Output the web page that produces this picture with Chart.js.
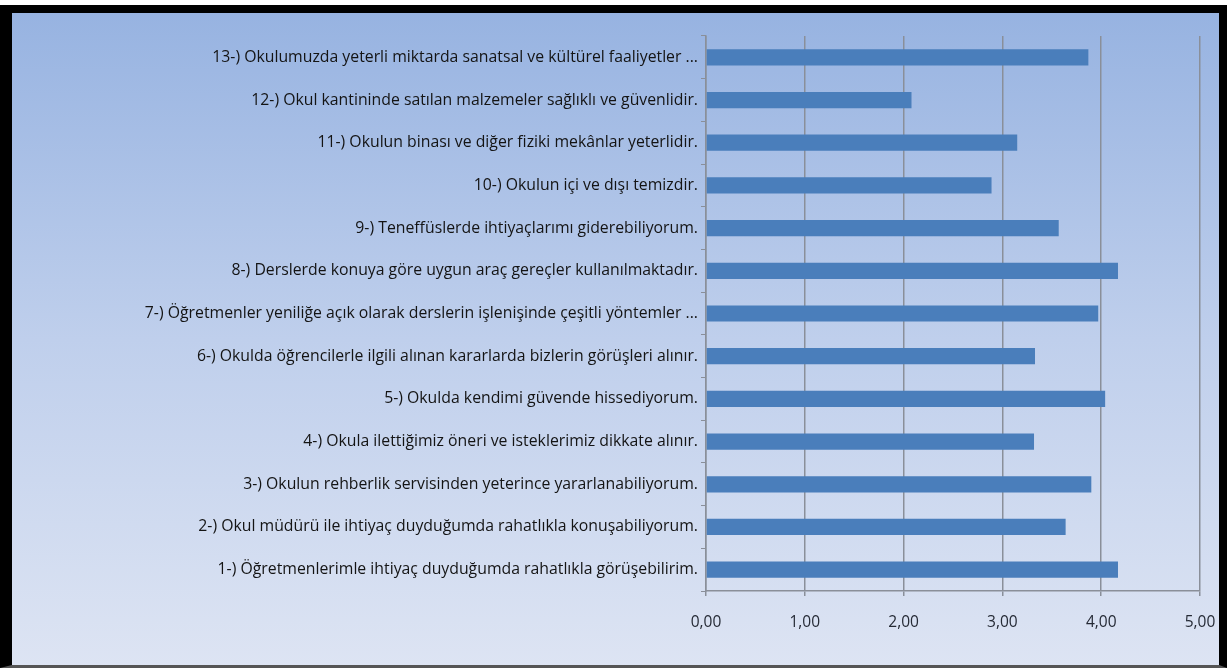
<!DOCTYPE html>
<html lang="tr">
<head>
<meta charset="utf-8">
<title>Okul memnuniyet anketi</title>
<script src="https://cdn.jsdelivr.net/npm/chart.js@4/dist/chart.umd.min.js"></script>
<style>
  body { margin: 0; background: #fff; }
  #frame {
    position: absolute;
    left: 0;
    top: 5px;
    width: 1207px;
    height: 652px;
    border-left: 12px solid #000;
    border-top: 8px solid #000;
    border-right: 8px solid #000;
    border-bottom: 3px solid #555;
    background: linear-gradient(to bottom, #97b3e1 0%, #bfcfec 50%, #dde4f3 100%);
  }
  canvas { display: block; }
</style>
</head>
<body>
<div id="frame">
  <canvas id="chart" width="1207" height="652"></canvas>
</div>
<script>
const questions = [
  "1-) Öğretmenlerimle ihtiyaç duyduğumda rahatlıkla görüşebilirim.",
  "2-) Okul müdürü ile ihtiyaç duyduğumda rahatlıkla konuşabiliyorum.",
  "3-) Okulun rehberlik servisinden yeterince yararlanabiliyorum.",
  "4-) Okula ilettiğimiz öneri ve isteklerimiz dikkate alınır.",
  "5-) Okulda kendimi güvende hissediyorum.",
  "6-) Okulda öğrencilerle ilgili alınan kararlarda bizlerin görüşleri alınır.",
  "7-) Öğretmenler yeniliğe açık olarak derslerin işlenişinde çeşitli yöntemler ...",
  "8-) Derslerde konuya göre uygun araç gereçler kullanılmaktadır.",
  "9-) Teneffüslerde ihtiyaçlarımı giderebiliyorum.",
  "10-) Okulun içi ve dışı temizdir.",
  "11-) Okulun binası ve diğer fiziki mekânlar yeterlidir.",
  "12-) Okul kantininde satılan malzemeler sağlıklı ve güvenlidir.",
  "13-) Okulumuzda yeterli miktarda sanatsal ve kültürel faaliyetler ..."
];

const averages = [4.17, 3.64, 3.90, 3.32, 4.04, 3.33, 3.97, 4.17, 3.57, 2.89, 3.15, 2.08, 3.87];

const xTicks = [0, 1, 2, 3, 4, 5];

Chart.defaults.font.family = "'Open Sans', Lato, sans-serif";
Chart.defaults.font.size = 15.8;
Chart.defaults.color = "#141414";

const ctx = document.getElementById("chart").getContext("2d");

new Chart(ctx, {
  type: "bar",
  data: {
    labels: questions,
    datasets: [{
      data: averages,
      backgroundColor: "#4a7ebb",
      borderWidth: 0,
      barPercentage: 0.38,
      categoryPercentage: 1
    }]
  },
  options: {
    indexAxis: "y",
    responsive: false,
    animation: false,
    layout: { padding: { top: 23, right: 19, left: 0, bottom: 0 } },
    plugins: {
      legend: { display: false },
      tooltip: { enabled: false }
    },
    scales: {
      x: {
        min: xTicks[0],
        max: xTicks[xTicks.length - 1],
        afterBuildTicks: (scale) => {
          scale.ticks = xTicks.map((v) => ({ value: v }));
        },
        afterFit: (scale) => {
          scale.height = 74;
          scale.paddingLeft = 0;
          scale.paddingRight = 0;
        },
        ticks: {
          padding: 17,
          color: "#252a35",
          font: { size: 15.5 },
          callback: (v) => Number(v).toFixed(2).replace(".", ",")
        },
        grid: {
          color: "#8a8f99",
          lineWidth: 1.5,
          tickLength: 5
        },
        border: { color: "#8a8f99", width: 1.5 }
      },
      y: {
        reverse: true,
        afterFit: (scale) => {
          scale.width = 694;
          scale.paddingTop = 0;
          scale.paddingBottom = 0;
        },
        ticks: {
          padding: 3,
          autoSkip: false
        },
        grid: {
          drawOnChartArea: false,
          color: "#8a8f99",
          tickLength: 5
        },
        border: { color: "#8a8f99", width: 1.5 }
      }
    }
  }
});
</script>
</body>
</html>
